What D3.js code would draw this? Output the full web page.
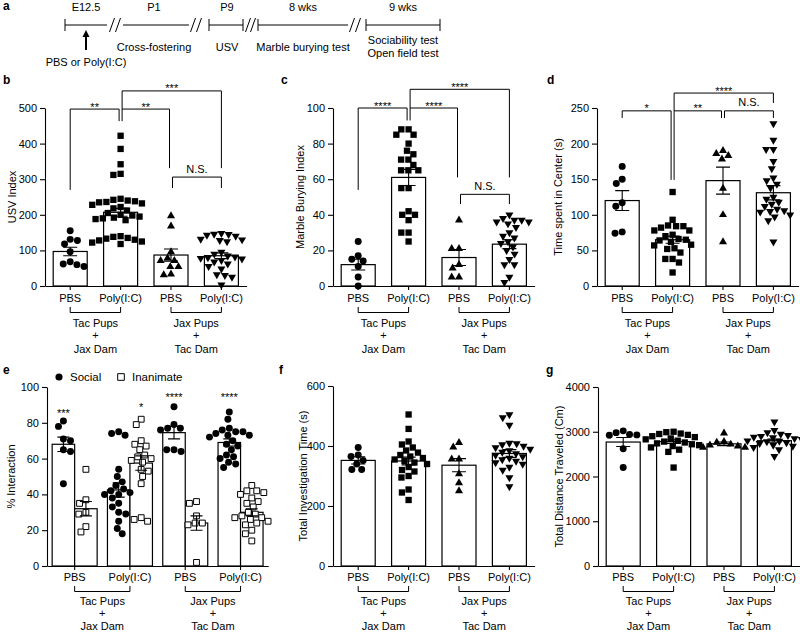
<!DOCTYPE html>
<html><head><meta charset="utf-8">
<script src="https://cdn.jsdelivr.net/npm/d3@7"></script>
<style>
body{margin:0;background:#fff}
svg{display:block}
text{font-family:"Liberation Sans",Arial,sans-serif;fill:#000}
</style>
</head><body><script>
// ---------------- DATA ----------------
const categories = ["PBS", "Poly(I:C)", "PBS", "Poly(I:C)"];
const fosterGroups = [["Tac Pups", "+", "Jax Dam"], ["Jax Pups", "+", "Tac Dam"]];
const shapes = ["circle", "square", "triangle", "triangleDown"];

// Timeline (panel a)
const stages = ["E12.5", "P1", "P9", "8 wks", "9 wks"];
const stageTests = [["PBS or Poly(I:C)"], ["Cross-fostering"], ["USV"], ["Marble burying test"], ["Sociability test", "Open field test"]];

// Panel b: USV index
const usvTicks = [0, 100, 200, 300, 400, 500];
const usvPoints = [
  [155, 131, 128, 118, 96, 68, 62, 55, 60],
  [422, 385, 342, 315, 312, 245, 242, 240, 238, 236, 235, 232, 228, 222, 218, 212, 205, 200, 198, 195, 192, 190, 188, 185, 140, 138, 135, 133, 130, 128, 125, 122, 118],
  [197, 168, 96, 78, 71, 71, 54, 54, 33, 31],
  [148, 146, 145, 143, 140, 132, 130, 128, 125, 95, 90, 85, 82, 80, 78, 76, 72, 68, 62, 55, 48, 32, 30, 25, 3]
];
const usvMean = [97, 207, 87, 85];
const usvSem = [12, 11, 17, 8];
const usvSig = [
  {a: 0, b: 1, top: 497, l: 270, r: 463, t: "**"},
  {a: 1, b: 2, top: 497, l: 463, r: 331, t: "**"},
  {a: 1, b: 3, top: 548, l: 497, r: 331, t: "***"},
  {a: 2, b: 3, top: 306, l: 275, r: 275, t: "N.S."}
];

// Panel c: Marble burying index
const marbleTicks = [0, 20, 40, 60, 80, 100];
const marblePoints = [
  [25, 17, 15, 14, 11, 5, 0],
  [88, 88, 85, 85, 80, 76, 74, 71, 71, 68, 65, 65, 65, 55, 55, 42, 40, 40, 37, 30, 30, 25],
  [37, 21, 21, 12, 5, 5, 10],
  [40, 38, 37, 37, 36, 36, 35, 33, 30, 28, 27, 25, 24, 22, 20, 18, 15, 12, 12, 5, 2]
];
const marbleMean = [12, 61, 16, 23.5];
const marbleSem = [3, 4.5, 4.5, 2.5];
const marbleSig = [
  {a: 0, b: 1, top: 100, l: 54, r: 93, t: "****"},
  {a: 1, b: 2, top: 100, l: 93, r: 61, t: "****"},
  {a: 1, b: 3, top: 110.5, l: 100, r: 61, t: "****"},
  {a: 2, b: 3, top: 51.5, l: 46, r: 46, t: "N.S."}
];

// Panel d: Time spent in center
const centerTicks = [0, 50, 100, 150, 200, 250];
const centerPoints = [
  [168, 150, 144, 117, 112, 76, 74],
  [132, 93, 85, 84, 84, 82, 78, 78, 72, 70, 66, 65, 64, 62, 58, 57, 53, 52, 47, 38, 38, 33, 19],
  [190, 186, 183, 178, 137, 100, 62],
  [228, 205, 192, 192, 175, 165, 152, 148, 143, 138, 125, 122, 118, 115, 112, 108, 106, 105, 104, 100, 97, 92, 62]
];
const centerMean = [120, 65, 148, 131];
const centerSem = [14, 5, 19, 10];
const centerSig = [
  {a: 0, b: 1, top: 246, l: 236, r: 149, t: "*"},
  {a: 1, b: 2, top: 246, l: 246, r: 236, t: "**"},
  {a: 2, b: 3, top: 246, l: 236, r: 236, t: "N.S."},
  {a: 1, b: 3, top: 271, l: 149, r: 257, t: "****"}
];

// Panel e: % interaction (Social / Inanimate)
const interactionKeys = ["Social", "Inanimate"];
const interactionTicks = [0, 20, 40, 60, 80, 100];
const socialPoints = [
  [81, 78, 71, 70, 65, 64, 46],
  [75, 74, 73, 54, 50, 47, 45, 43, 42, 41, 40, 40, 38, 35, 33, 30, 29, 25, 21, 18],
  [89, 79, 77, 77, 76, 65, 65, 64],
  [86, 82, 77, 76, 75, 75, 74, 73, 73, 72, 70, 68, 67, 65, 62, 61, 60, 58, 57, 55]
];
const socialMean = [68, 42.5, 74.5, 69];
const socialSem = [4, 4, 3.5, 2];
const inanimatePoints = [
  [54, 37, 35, 30, 29, 22, 19],
  [82, 79, 70, 68, 67, 65, 62, 61, 60, 59, 58, 54, 53, 50, 46, 27, 26, 25],
  [36, 35, 28, 24, 24, 23, 2],
  [45, 42, 42, 41, 40, 38, 36, 35, 33, 30, 29, 28, 27, 27, 26, 25, 24, 23, 20, 18, 14]
];
const inanimateMean = [32, 57.5, 24, 30];
const inanimateSem = [4, 4, 4, 2];
const interactionStars = [
  {g: 0, k: 0, v: 87, t: "***"},
  {g: 1, k: 1, v: 90.5, t: "*"},
  {g: 2, k: 0, v: 96, t: "****"},
  {g: 3, k: 0, v: 96, t: "****"}
];

// Panel f: Total investigation time
const investTicks = [0, 200, 400, 600];
const investPoints = [
  [395, 370, 365, 352, 340, 322, 322],
  [505, 457, 415, 405, 395, 385, 378, 370, 365, 360, 355, 350, 345, 340, 330, 320, 315, 300, 295, 255, 245, 220],
  [411, 396, 356, 356, 307, 277, 250],
  [505, 495, 470, 410, 408, 405, 400, 395, 390, 385, 380, 375, 370, 365, 360, 355, 350, 345, 340, 330, 320, 295, 265]
];
const investMean = [352, 350, 336, 375];
const investSem = [12, 13, 22, 13];

// Panel g: Total distance traveled
const distTicks = [0, 1000, 2000, 3000, 4000];
const distPoints = [
  [3020, 2980, 2930, 2940, 2920, 2620, 2200],
  [3000, 2990, 2960, 2950, 2930, 2900, 2880, 2850, 2830, 2800, 2780, 2760, 2740, 2720, 2700, 2680, 2650, 2600, 2550, 2200],
  [2970, 2780, 2760, 2720, 2700, 2680, 2650, 2650],
  [3220, 3030, 2980, 2950, 2920, 2900, 2880, 2870, 2850, 2830, 2800, 2790, 2780, 2760, 2740, 2720, 2700, 2680, 2650, 2600, 2450]
];
const distMean = [2770, 2780, 2730, 2800];
const distSem = [100, 40, 40, 35];

// ---------------- DRAWING ----------------
const FS = 11;
const svg = d3.select("body").append("svg").attr("width", 800).attr("height", 632);

function symbolPath(shape, size) {
  const t = {circle: d3.symbolCircle, square: d3.symbolSquare, triangle: d3.symbolTriangle, triangleDown: d3.symbolTriangle}[shape];
  return d3.symbol().type(t).size(size)();
}
const symSize = {circle: 38, square: 40, triangle: 28, triangleDown: 28};

function swarm(vals, y, cx, d) {
  const pts = vals.map(v => ({v, y: y(v)})).sort((a, b) => a.y - b.y);
  const placed = [];
  for (const p of pts) {
    const iv = [];
    for (const q of placed) {
      const dy = Math.abs(q.y - p.y);
      if (dy < d) { const w = Math.sqrt(d * d - dy * dy); iv.push([q.x - w, q.x + w]); }
    }
    const cands = [cx];
    iv.forEach(r => cands.push(r[0], r[1]));
    cands.sort((a, b) => Math.abs(a - cx) - Math.abs(b - cx));
    let x = cx;
    for (const c of cands) {
      if (!iv.some(r => c > r[0] + 1e-6 && c < r[1] - 1e-6)) { x = c; break; }
    }
    p.x = x; placed.push(p);
  }
  return placed;
}

function drawPoints(g, vals, y, cx, shape, open) {
  const pts = swarm(vals, y, cx, 7.3);
  g.selectAll(null).data(pts).enter().append("path")
    .attr("d", symbolPath(shape, open ? 34 : symSize[shape]))
    .attr("transform", p => `translate(${p.x},${p.y})` + (shape === "triangleDown" ? " rotate(180)" : ""))
    .attr("fill", open ? "#fff" : "#000")
    .attr("stroke", open ? "#000" : "none")
    .attr("stroke-width", 1);
}

function drawErr(g, cx, y, m, s, hw) {
  g.append("path")
    .attr("d", `M${cx},${y(m - s)}V${y(m + s)}M${cx - hw},${y(m + s)}H${cx + hw}M${cx - hw},${y(m - s)}H${cx + hw}`)
    .attr("stroke", "#000").attr("stroke-width", 1.1).attr("fill", "none");
}

function yAxis(g, y, x0, ticks) {
  const ax = g.append("g").attr("transform", `translate(${x0},0)`)
    .call(d3.axisLeft(y).tickValues(ticks).tickSize(5).tickSizeOuter(0).tickPadding(3).tickFormat(d3.format("d")));
  ax.attr("font-size", FS).attr("font-family", "Liberation Sans, Arial, sans-serif");
  ax.selectAll("path,line").attr("stroke", "#000").attr("stroke-width", 1.1);
}

function xAxis(g, band, yb, offs) {
  const ax = g.append("g").attr("transform", `translate(0,${yb})`)
    .call(d3.axisBottom(band).tickSize(4).tickSizeOuter(0).tickPadding(offs.pad).tickFormat(i => categories[i]));
  ax.attr("font-size", FS).attr("font-family", "Liberation Sans, Arial, sans-serif");
  ax.selectAll("path,line").attr("stroke", "#000").attr("stroke-width", 1.1);
  [[0, 1], [2, 3]].forEach((pair, k) => {
    const xa = band(pair[0]) + band.bandwidth() / 2, xb = band(pair[1]) + band.bandwidth() / 2;
    g.append("path").attr("d", `M${xa},${yb + offs.br[0]}V${yb + offs.br[1]}H${xb}V${yb + offs.br[0]}`)
      .attr("fill", "none").attr("stroke", "#000").attr("stroke-width", 1);
    const xm = (xa + xb) / 2;
    offs.lines.forEach((dy, j) => {
      g.append("text").attr("x", xm).attr("y", yb + dy).attr("text-anchor", "middle")
        .attr("font-size", FS).text(fosterGroups[k][j]);
    });
  });
}
const topOffs = {pad: 4.5, br: [21, 26.5], lines: [40.5, 52.5, 66.5]};
const botOffs = {pad: 3.5, br: [20, 25.5], lines: [39, 50.5, 63.5]};

function axisTitle(g, text, x, ymid) {
  g.append("text").attr("transform", `translate(${x},${ymid}) rotate(-90)`)
    .attr("text-anchor", "middle").attr("font-size", FS).text(text);
}

function drawSig(g, sig, xc, y) {
  sig.forEach(s => {
    let xl = xc(s.a), xr = xc(s.b);
    if (sig.some(o => o !== s && o.b === s.a)) xl += 1.5;
    if (sig.some(o => o !== s && o.a === s.b)) xr -= 1.5;
    const yt = y(s.top);
    g.append("path").attr("d", `M${xl},${y(s.l)}V${yt}H${xr}V${y(s.r)}`)
      .attr("fill", "none").attr("stroke", "#000").attr("stroke-width", 1);
    const star = s.t.indexOf("*") >= 0;
    g.append("text").attr("x", (xl + xr) / 2).attr("y", star ? yt + 1.5 : yt - 4.5)
      .attr("text-anchor", "middle").attr("font-size", FS).text(s.t);
  });
}

function barPanel(o) {
  const g = svg.append("g");
  const step = 50.4;
  const band = d3.scaleBand().domain(d3.range(4)).range([o.x0, o.x0 + 4 * step]).paddingInner(0.325).paddingOuter(0.1625);
  const xc = i => band(i) + band.bandwidth() / 2;
  const y = d3.scaleLinear().domain([0, o.ticks[o.ticks.length - 1]]).range([o.yb, o.yt]);
  g.selectAll(null).data(o.mean).enter().append("rect")
    .attr("x", (d, i) => band(i)).attr("width", band.bandwidth())
    .attr("y", d => y(d)).attr("height", d => o.yb - y(d))
    .attr("fill", "#fff").attr("stroke", "#000").attr("stroke-width", 1.2);
  o.points.forEach((vals, i) => drawPoints(g, vals, y, xc(i), shapes[i], false));
  o.mean.forEach((m, i) => drawErr(g, xc(i), y, m, o.sem[i], 7));
  yAxis(g, y, o.x0, o.ticks);
  xAxis(g, band, o.yb, o.offs);
  axisTitle(g, o.title, o.tx, (o.yb + o.yt) / 2);
  if (o.sig) drawSig(g, o.sig, xc, y);
  g.append("text").attr("x", o.letter[0]).attr("y", o.letter[1]).attr("font-size", 12).attr("font-weight", "bold").text(o.letter[2]);
}

barPanel({x0: 45, yb: 286, yt: 108, ticks: usvTicks, points: usvPoints, mean: usvMean, sem: usvSem, title: "USV Index", tx: 16, sig: usvSig, offs: topOffs, letter: [3, 84, "b"]});
barPanel({x0: 333, yb: 286, yt: 108, ticks: marbleTicks, points: marblePoints, mean: marbleMean, sem: marbleSem, title: "Marble Burying Index", tx: 304, sig: marbleSig, offs: topOffs, letter: [281, 84, "c"]});
barPanel({x0: 597, yb: 286, yt: 108, ticks: centerTicks, points: centerPoints, mean: centerMean, sem: centerSem, title: "Time spent in Center (s)", tx: 562, sig: centerSig, offs: topOffs, letter: [547, 84, "d"]});
barPanel({x0: 333, yb: 566, yt: 386, ticks: investTicks, points: investPoints, mean: investMean, sem: investSem, title: "Total Investigation Time (s)", tx: 307, offs: botOffs, letter: [279, 374, "f"]});
barPanel({x0: 598, yb: 566, yt: 387, ticks: distTicks, points: distPoints, mean: distMean, sem: distSem, title: "Total Distance Traveled (Cm)", tx: 563, offs: botOffs, letter: [546, 374, "g"]});

// Panel e
(function () {
  const g = svg.append("g");
  const x0 = 47, yb = 566, yt = 387, step = 55.3, bw = 22.5;
  const band = d3.scaleBand().domain(d3.range(4)).range([x0, x0 + 4 * step]).paddingInner(0.186).paddingOuter(0.093);
  const gc = i => band(i) + band.bandwidth() / 2;
  const bc = (i, k) => gc(i) + (k === 0 ? -bw / 2 : bw / 2);
  const y = d3.scaleLinear().domain([0, 100]).range([yb, yt]);
  const series = [
    {pts: socialPoints, mean: socialMean, sem: socialSem, shape: "circle", open: false},
    {pts: inanimatePoints, mean: inanimateMean, sem: inanimateSem, shape: "square", open: true}
  ];
  series.forEach((s, k) => {
    g.selectAll(null).data(s.mean).enter().append("rect")
      .attr("x", (d, i) => bc(i, k) - bw / 2).attr("width", bw)
      .attr("y", d => y(d)).attr("height", d => yb - y(d))
      .attr("fill", "#fff").attr("stroke", "#000").attr("stroke-width", 1.2);
  });
  series.forEach((s, k) => {
    s.pts.forEach((vals, i) => drawPoints(g, vals, y, bc(i, k), s.shape, s.open));
    s.mean.forEach((m, i) => drawErr(g, bc(i, k), y, m, s.sem[i], 6));
  });
  yAxis(g, y, x0, interactionTicks);
  xAxis(g, band, yb, botOffs);
  axisTitle(g, "% Interaction", 15, (yb + yt) / 2);
  interactionStars.forEach(s => {
    g.append("text").attr("x", bc(s.g, s.k)).attr("y", y(s.v) + 6.5).attr("text-anchor", "middle")
      .attr("font-size", FS).text(s.t);
  });
  const lg = g.append("g");
  lg.append("path").attr("d", symbolPath("circle", 40)).attr("transform", "translate(59,377)");
  lg.append("text").attr("x", 70).attr("y", 381).attr("font-size", 11.5).text(interactionKeys[0]);
  lg.append("path").attr("d", symbolPath("square", 44)).attr("transform", "translate(121,377)")
    .attr("fill", "#fff").attr("stroke", "#000");
  lg.append("text").attr("x", 132).attr("y", 381).attr("font-size", 11.5).text(interactionKeys[1]);
  g.append("text").attr("x", 3).attr("y", 374).attr("font-size", 12).attr("font-weight", "bold").text("e");
})();

// Panel a: timeline
(function () {
  const g = svg.append("g");
  const ty = 25;
  const segs = [[65, 107], [123, 189], [209, 243], [258, 348], [366, 440]];
  const ticks = [65, 209, 243, 258, 366, 440];
  const slashes = [112, 118, 193, 199, 248, 253, 352, 358];
  const cx = [86, 154, 227, 303, 403];
  segs.forEach(s => g.append("line").attr("x1", s[0]).attr("x2", s[1]).attr("y1", ty).attr("y2", ty).attr("stroke", "#000"));
  ticks.forEach(x => g.append("line").attr("x1", x).attr("x2", x).attr("y1", ty - 6).attr("y2", ty + 6).attr("stroke", "#000"));
  slashes.forEach(x => g.append("line").attr("x1", x - 2.5).attr("x2", x + 2.5).attr("y1", ty + 7).attr("y2", ty - 7).attr("stroke", "#000"));
  stages.forEach((s, i) => g.append("text").attr("x", cx[i]).attr("y", 11).attr("text-anchor", "middle").attr("font-size", FS).text(s));
  g.append("line").attr("x1", cx[0]).attr("x2", cx[0]).attr("y1", 50).attr("y2", 36).attr("stroke", "#000").attr("stroke-width", 2);
  g.append("path").attr("d", `M${cx[0] - 3.5},${37}L${cx[0]},${30}L${cx[0] + 3.5},${37}Z`).attr("fill", "#000");
  const rows = [[66], [51], [51], [51], [44, 57]];
  stageTests.forEach((arr, i) => arr.forEach((t, j) => {
    g.append("text").attr("x", cx[i]).attr("y", rows[i][j]).attr("text-anchor", "middle").attr("font-size", FS).text(t);
  }));
  g.append("text").attr("x", 3).attr("y", 10).attr("font-size", 12).attr("font-weight", "bold").text("a");
})();
</script></body></html>
